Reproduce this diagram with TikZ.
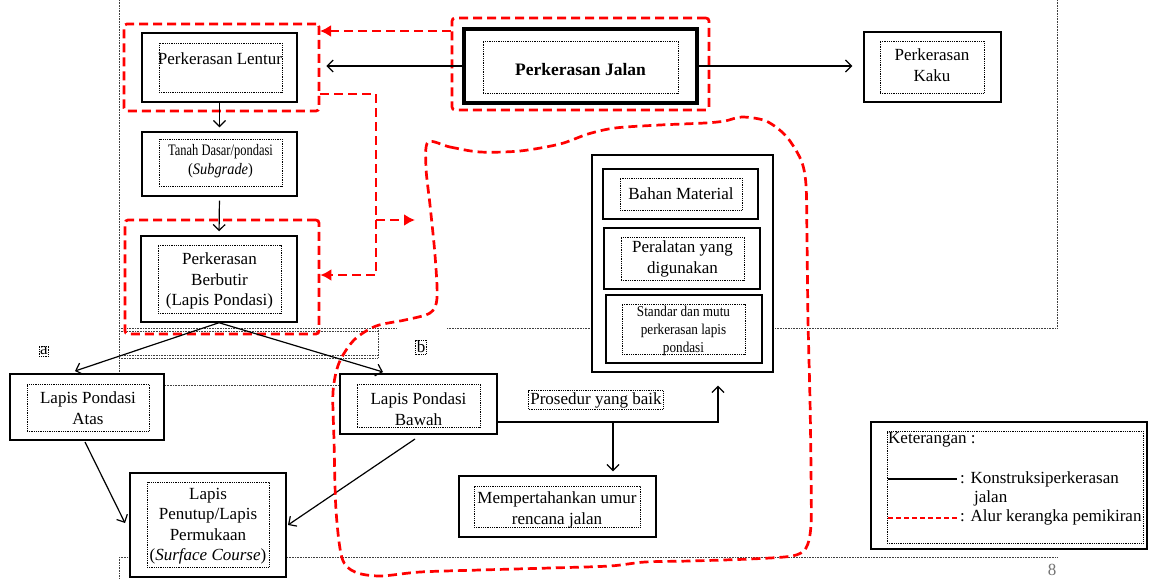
\documentclass[tikz,border=0pt]{standalone}
\usepackage{fontspec}
\setmainfont{Liberation Serif}
\usetikzlibrary{arrows.meta,calc}
\begin{document}
\begin{tikzpicture}[x=1pt,y=-1pt,
  bx/.style={draw, line width=1.4pt, fill=white, inner sep=0pt},
  ib/.style={draw, densely dotted, line width=0.8pt, inner sep=0pt},
  tx/.style={align=center, font=\fontsize{17}{20.5}\selectfont, inner sep=0pt},
  rd/.style={draw=red, line width=2.7pt, dash pattern=on 9pt off 5pt},
  rgrp/.style={rd, rounded corners=3pt, inner sep=0pt},
  arr/.style={line width=1.2pt, -{Straight Barb[length=6pt,width=12pt]}},
  rarr/.style={rd, -{Latex[length=11pt,width=12pt]}},
  art/.style={densely dotted, line width=0.6pt, black!75}]
\useasboundingbox (0,0) rectangle (1155,578);

% ---- Word frame artifacts (dotted guide lines) ----
\draw[art] (119,0) -- (119,372);
\draw[art] (1057,0) -- (1057,328);
\draw[art] (447,328) -- (1057,328);
\draw[art] (119,328) -- (397,328);
\draw[art] (119,331) -- (378,331);
\draw[art] (119,355) -- (378,355);
\draw[art] (119,358) -- (378,358);
\draw[art] (378,328) -- (378,358);
\draw[art] (165,385) -- (340,385);
\draw[art] (119,557) -- (1057,557);
\draw[art] (119,557) -- (119,578);

% ---- boxes ----
\node[bx, minimum width=155, minimum height=69] (lentur) at (219.5,67.5) {};
\node[ib, minimum width=123, minimum height=49] (lenturi) at (220.5,67.5) {};
\node[tx] (lenturt) at (220,59) {Perkerasan Lentur};

\node[bx, minimum width=155, minimum height=64] (tanah) at (219.5,164) {};
\node[ib, minimum width=123, minimum height=47] (tanahi) at (220.5,162.5) {};
\node[tx, font=\fontsize{16}{19}\selectfont] (tanaht) at (220.5,161) {\scalebox{0.78}[1]{Tanah Dasar/pondasi}\\\scalebox{0.9}[1]{(\textit{Subgrade})}};

\node[bx, minimum width=156, minimum height=86] (butir) at (219,279) {};
\node[ib, minimum width=123, minimum height=68] (butiri) at (219.5,279) {};
\node[tx] (butirt) at (219.5,281) {Perkerasan\\Berbutir\\(Lapis Pondasi)};

\node[bx, line width=4pt, minimum width=233, minimum height=74] (jalan) at (580.5,66) {};
\node[ib, minimum width=195, minimum height=52] (jalani) at (580.5,67) {};
\node[tx, font=\bfseries\fontsize{17.5}{20}\selectfont] (jalant) at (580.5,70) {Perkerasan Jalan};

\node[bx, minimum width=137, minimum height=70] (kaku) at (932.5,67) {};
\node[ib, minimum width=104, minimum height=52] (kakui) at (932,67) {};
\node[tx] (kakut) at (932,65) {Perkerasan\\Kaku};

\node[bx, minimum width=181, minimum height=217] (cont) at (682.5,263.5) {};
\node[bx, minimum width=155, minimum height=50] (bahan) at (680.5,194) {};
\node[ib, minimum width=122, minimum height=32] (bahani) at (681,194) {};
\node[tx] (bahant) at (681,194) {Bahan Material};
\node[bx, minimum width=156, minimum height=61] (alat) at (682,258.5) {};
\node[ib, minimum width=123, minimum height=43] (alati) at (682.5,258.5) {};
\node[tx] (alatt) at (682.5,259) {Peralatan yang\\digunakan};
\node[bx, minimum width=156, minimum height=68] (std) at (684,329) {};
\node[ib, minimum width=123, minimum height=50] (stdi) at (683.5,329) {};
\node[tx, font=\fontsize{15}{18}\selectfont] (stdt) at (683.5,331) {\scalebox{0.88}[1]{Standar dan mutu}\\\scalebox{0.88}[1]{perkerasan lapis}\\\scalebox{0.88}[1]{pondasi}};

\node[bx, minimum width=154, minimum height=66] (atas) at (87,407) {};
\node[ib, minimum width=122, minimum height=47] (atasi) at (88,407.5) {};
\node[tx] (atast) at (88,408) {Lapis Pondasi\\Atas};

\node[bx, minimum width=157, minimum height=60] (bawah) at (418.5,404) {};
\node[ib, minimum width=123, minimum height=43] (bawahi) at (418.5,405.5) {};
\node[tx] (bawaht) at (418.5,409) {Lapis Pondasi\\Bawah};

\node[bx, minimum width=156, minimum height=104] (tutup) at (208,525) {};
\node[ib, minimum width=122, minimum height=85] (tutupi) at (208,524.5) {};
\node[tx] (tutupt) at (208,526) {Lapis\\Penutup/Lapis\\Permukaan\\(\textit{Surface Course})};

\node[bx, minimum width=197, minimum height=61] (umur) at (557.5,506.5) {};
\node[ib, minimum width=166, minimum height=41] (umuri) at (557,506.5) {};
\node[tx] (umurt) at (557,510) {Mempertahankan umur\\rencana jalan};

\node[ib, tx, inner sep=1.5pt] (prosedur) at (596,400) {Prosedur yang baik};
\node[ib, tx, inner sep=1pt] (la) at (44,351) {a};
\node[ib, tx, inner sep=1pt] (lb) at (421,347) {b};

% ---- legend ----
\node[bx, minimum width=276, minimum height=127] (leg) at (1009,485.5) {};
\node[ib, minimum width=256, minimum height=112] (legi) at (1015,487) {};
\node[tx, anchor=west] (legk) at (888,440) {Keterangan :};
\coordinate (l1a) at (888,479);
\coordinate (l1b) at (957,479);
\draw[line width=1.2pt] (l1a) -- (l1b);
\node[tx, anchor=west] (legt1) at (960,479) {: Konstruksiperkerasan};
\node[tx, anchor=west] (legt1b) at (974,498) {jalan};
\coordinate (l2a) at (888,518);
\coordinate (l2b) at (957,518);
\draw[draw=red, line width=1.4pt, dash pattern=on 5pt off 3pt] (l2a) -- (l2b);
\node[tx, anchor=west] (legt2) at (960,517) {: Alur kerangka pemikiran};

\node[tx, text=black!55] (pg) at (1052,570) {8};

% ---- red groups ----
\node[rgrp, minimum width=195, minimum height=87] (lgrp) at (221.5,67.5) {};
\node[rgrp, minimum width=194, minimum height=114] (bgrp) at (222,277) {};
\node[rgrp, minimum width=257, minimum height=92] (jgrp) at (580.5,64) {};

% ---- black connectors ----
\draw[arr, shorten >=6pt] (jalan.west) -- (lgrp.east |- jalan.west);
\draw[arr, shorten >=11pt] (jalan.east) -- (kaku.west |- jalan.east);
\draw[arr, shorten >=4pt] (lentur.south) -- (tanah.north);
\draw[arr, shorten <=4pt, shorten >=4pt] (tanah.south) -- (butir.north);
\coordinate (atasin) at (75,371);
\coordinate (bawahin) at (383,372);
\draw[arr] (butir.south) -- (atasin);
\draw[arr] (butir.south) -- (bawahin);
\coordinate (atasout) at (85,442);
\coordinate (bawahout) at (415,439);
\coordinate (tutin1) at (125,523);
\coordinate (tutin2) at (288,525);
\draw[arr] (atasout) -- (tutin1);
\draw[arr] (bawahout) -- (tutin2);
\coordinate (pr) at (718,422);
\coordinate (pd) at (613,422);
\draw[arr, shorten >=13pt] (bawah.east |- pr) -- (pr) -- (pr |- cont.south);
\draw[arr, shorten >=4pt] (pd) -- (pd |- umur.north);

% ---- red connectors ----
\coordinate (r1) at (320,31);
\draw[rarr] (jgrp.west |- r1) -- (r1);
\coordinate (rj) at (376,94);
\coordinate (rb) at (376,275);
\draw[rarr] (lgrp.east |- rj) -- (rj) -- (rb) -- (bgrp.east |- rb);
\coordinate (rbr) at (376,220);
\coordinate (rtip) at (415,220);
\draw[rarr] (rbr) -- (rtip);

% ---- red cloud ----
\draw[rd] plot[smooth cycle, tension=0.5] coordinates {
 (428,142) (450,147) (480,152) (520,151) (560,144) (588,134) (615,128)
 (660,125) (705,123) (725,121) (742,117) (766,121) (786,136) (801,160)
 (806,185) (807,240) (808,320) (810,400) (811,470) (811,525) (806,548)
 (792,556) (750,559) (690,561) (645,562) (610,566) (550,568) (480,570)
 (420,572) (380,576) (355,572) (342,558) (336,510) (334,440) (333,392)
 (339,363) (354,340) (376,326) (405,320) (430,313) (437,298) (435,255)
 (430,205) (426,168)};
\end{tikzpicture}
\end{document}
